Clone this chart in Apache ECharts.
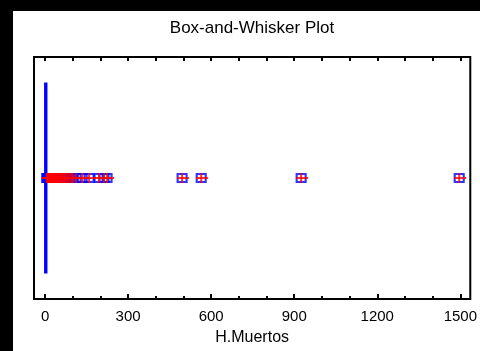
<!DOCTYPE html>
<html>
<head>
<meta charset="utf-8">
<script src="https://cdn.jsdelivr.net/npm/echarts@6/dist/echarts.min.js"></script>
<style>
  html, body { margin: 0; padding: 0; background: #000; width: 480px; height: 351px; overflow: hidden; }
  #chart { position: absolute; left: 13px; top: 11px; width: 467px; height: 340px; background: #fff; }
</style>
</head>
<body>
<div id="chart"></div>
<script>
var category = ['H.Muertos'];
// min, Q1, median, Q3, max
var boxValues = [0, 0, 1, 5, 5];
// outliers
var outliers = [6, 8, 10, 12, 14, 16, 18, 20, 22, 25, 27, 30, 32, 35, 38, 40, 43, 46, 50, 53,
    57, 60, 64, 68, 72, 77, 82, 88, 95, 100, 112, 134, 159, 195, 213, 224, 495, 564, 925, 1496];
var majorTicks = [0, 300, 600, 900, 1200, 1500];
var minorTicks = [100, 200, 400, 500, 700, 800, 1000, 1100, 1300, 1400];
var allTicks = [0, 100, 200, 300, 400, 500, 600, 700, 800, 900, 1000, 1100, 1200, 1300, 1400, 1500];

var chart = echarts.init(document.getElementById('chart'));
var font = 'Liberation Sans, Arial, sans-serif';
var xMin = -40, xMax = 1536;

var outData = [];
for (var i = 0; i < outliers.length; i++) {
    outData.push([outliers[i], 0]);
}

var option = {
    animation: false,
    title: {
        text: 'Box-and-Whisker Plot',
        left: 239,
        textAlign: 'center',
        top: 9,
        padding: 0,
        textStyle: { fontFamily: font, fontSize: 17, fontWeight: 'normal', color: '#000' }
    },
    grid: {
        left: 21, top: 46, right: 9, bottom: 46,
        show: true, borderColor: '#000', borderWidth: 2
    },
    xAxis: [{
        type: 'value', position: 'bottom', min: xMin, max: xMax,
        name: 'H.Muertos', nameLocation: 'middle', nameGap: 31,
        nameTextStyle: { fontFamily: font, fontSize: 16, color: '#000' },
        axisLine: { show: false },
        axisTick: { show: true, inside: true, length: 5, customValues: majorTicks, lineStyle: { color: '#000', width: 2 } },
        axisLabel: {
            customValues: majorTicks, fontFamily: font, fontSize: 15, color: '#000', margin: 10,
            formatter: function (v) { return String(v); }
        },
        splitLine: { show: false }
    }, {
        type: 'value', position: 'bottom', min: xMin, max: xMax,
        axisLine: { show: false },
        axisTick: { show: true, inside: true, length: 3, customValues: minorTicks, lineStyle: { color: '#000', width: 2 } },
        axisLabel: { show: false },
        splitLine: { show: false }
    }, {
        type: 'value', position: 'top', min: xMin, max: xMax,
        axisLine: { show: false },
        axisTick: { show: true, inside: true, length: 4, customValues: allTicks, lineStyle: { color: '#000', width: 2 } },
        axisLabel: { show: false },
        splitLine: { show: false }
    }],
    yAxis: {
        type: 'category', data: category,
        axisLine: { show: false }, axisTick: { show: false }, axisLabel: { show: false }
    },
    series: [{
        type: 'boxplot',
        data: [boxValues],
        boxWidth: [189, 189],
        itemStyle: { color: '#0000ff', borderColor: '#0000ff', borderWidth: 2 },
        z: 2
    }, {
        type: 'scatter',
        data: outData,
        symbol: 'rect',
        symbolSize: [9, 8],
        itemStyle: { color: 'rgba(0,0,0,0)', borderColor: '#0000ff', borderWidth: 2 },
        z: 3
    }, {
        type: 'scatter',
        data: outData,
        symbol: 'rect',
        symbolSize: [12, 2],
        symbolOffset: [1, 0],
        itemStyle: { color: '#ff0000' },
        z: 4
    }, {
        type: 'scatter',
        data: outData,
        symbol: 'rect',
        symbolSize: [2, 10],
        itemStyle: { color: '#ff0000' },
        z: 4
    }]
};
chart.setOption(option);
</script>
</body>
</html>
